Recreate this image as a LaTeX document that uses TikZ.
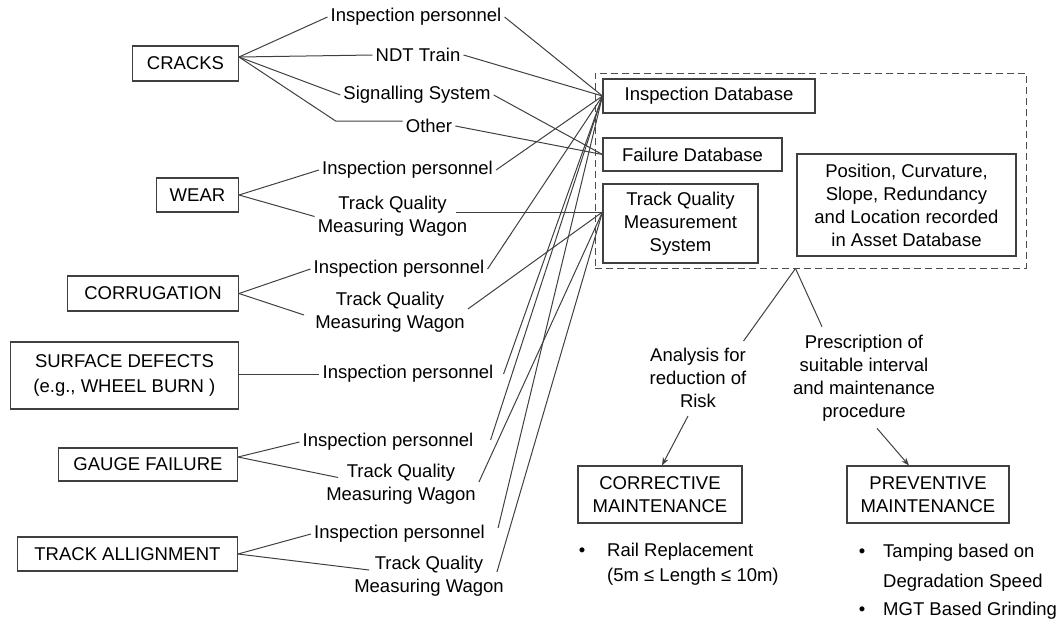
\documentclass[tikz,border=0pt]{standalone}
\usepackage{fontspec}
\setmainfont{Liberation Sans}
\usetikzlibrary{arrows.meta,calc}
\begin{document}
\begin{tikzpicture}[x=1pt,y=-1pt,
  every node/.style={font=\fontsize{18.5}{23}\selectfont, text=black},
  conn/.style={draw=black!75, line width=1pt},
  box/.style={draw=black!75, line width=1.1pt, align=center, inner sep=2pt},
  lbl/.style={align=center, inner sep=3pt},
  frame/.style={draw=black!70, line width=1pt, dash pattern=on 7pt off 4pt, inner sep=0pt},
  arr/.style={conn, -{Stealth[length=8pt,width=6pt]}},
  item/.style={anchor=west, inner sep=0pt},
]
\useasboundingbox (0,0) rectangle (1060,625);

% defect classes
\node[box, anchor=east, minimum width=106pt, minimum height=35pt] (cracks) at (239,63.5) {CRACKS};
\node[box, anchor=east, minimum width=82pt, minimum height=34pt] (wear) at (239,195) {WEAR};
\node[box, anchor=east, minimum width=171pt, minimum height=35pt] (corr) at (239,293.5) {CORRUGATION};
\node[box, anchor=east, minimum width=228pt, minimum height=67pt] (surf) at (239,375.5) {SURFACE DEFECTS\\[2pt](e.g., WHEEL BURN )};
\node[box, anchor=east, minimum width=179pt, minimum height=33pt] (gauge) at (238,464.5) {GAUGE FAILURE};
\node[box, anchor=east, minimum width=220pt, minimum height=34pt] (track) at (238,554) {TRACK ALLIGNMENT};

% detection sources
\node[lbl] (cip) at (416,17) {Inspection personnel};
\node[lbl] (ndt) at (418,55) {NDT Train};
\node[lbl] (sig) at (417,95) {Signalling System};
\node[lbl] (oth) at (429,126) {Other};
\node[lbl] (wip) at (407.5,170) {Inspection personnel};
\node[lbl] (wtq) at (392.5,216.5) {Track Quality\\Measuring Wagon};
\node[lbl] (rip) at (399,269) {Inspection personnel};
\node[lbl] (rtq) at (390,312) {Track Quality\\Measuring Wagon};
\node[lbl] (sip) at (408,374) {Inspection personnel};
\node[lbl] (gip) at (388,442) {Inspection personnel};
\node[lbl] (gtq) at (401,484.5) {Track Quality\\Measuring Wagon};
\node[lbl] (tip) at (399.5,534) {Inspection personnel};
\node[lbl] (ttq) at (429,576.5) {Track Quality\\Measuring Wagon};

% data stores
\node[frame, minimum width=431pt, minimum height=195pt] (store) at (810.5,170.5) {};
\node[box, minimum width=212pt, minimum height=34pt] (idb) at (709,96) {Inspection Database};
\node[box, minimum width=179pt, minimum height=33pt] (fdb) at (692.5,154.5) {Failure Database};
\node[box, minimum width=155pt, minimum height=79pt] (tqms) at (680.5,223.5) {Track Quality\\Measurement\\System};
\node[box, minimum width=219pt, minimum height=102pt] (pos) at (906.5,205) {Position, Curvature,\\Slope, Redundancy\\and Location recorded\\in Asset Database};

% entry points
\coordinate (cfan) at ([yshift=6.5pt]cracks.east);
\coordinate (gfan) at ([yshift=7.5pt]gauge.east);
\coordinate (tqin) at ([yshift=11.5pt]tqms.west);
\coordinate (apex) at ([xshift=-15pt]store.south);

% defect class -> source
\draw[conn] (cfan) -- (cip.west);
\draw[conn] (cfan) -- (ndt.west);
\draw[conn] (cfan) -- (sig.west);
\draw[conn] (cfan) -- ([xshift=-67pt,yshift=5pt]oth.west) -- ([yshift=5pt]oth.west);
\draw[conn] (wear.east) -- (wip.west);
\draw[conn] (wear.east) -- (wtq.west);
\draw[conn] (corr.east) -- (rip.west);
\draw[conn] (corr.east) -- ([xshift=-8pt,yshift=-3pt]rtq.west);
\draw[conn] (surf.east |- sip.west) -- (sip.west);
\draw[conn] (gfan) -- (gip.west);
\draw[conn] (gfan) -- ([xshift=15pt,yshift=7pt]gtq.west);
\draw[conn] (track.east) -- (tip.west);
\draw[conn] (track.east) -- ([xshift=18pt,yshift=6.5pt]ttq.west);

% source -> data store
\draw[conn] (cip.east) -- (idb.west);
\draw[conn] (ndt.east) -- (idb.west);
\draw[conn] (sig.east) -- (fdb.west);
\draw[conn] (oth.east) -- (fdb.west);
\draw[conn] (wip.east) -- (idb.west);
\draw[conn] ([xshift=-14pt,yshift=4.5pt]wtq.east) -- (tqin);
\draw[conn] (rip.east) -- (idb.west);
\draw[conn] ([yshift=3pt]rtq.east) -- (tqin);
\draw[conn] ([xshift=7pt]sip.east) -- (idb.west);
\draw[conn] ([xshift=14pt,yshift=2pt]gip.east) -- (idb.west);
\draw[conn] ([yshift=2.5pt]gtq.east) -- (tqin);
\draw[conn] ([xshift=10pt,yshift=6pt]tip.east) -- (idb.west);
\draw[conn] ([xshift=-10pt,yshift=4.5pt]ttq.east) -- (tqin);

% maintenance strategies
\node[lbl] (ana) at (698,378) {Analysis for\\reduction of\\Risk};
\node[lbl] (pre) at (864,378) {Prescription of\\suitable interval\\and maintenance\\procedure};
\node[box, minimum width=164pt, minimum height=57pt] (cm) at (660,494.5) {CORRECTIVE\\MAINTENANCE};
\node[box, minimum width=162pt, minimum height=57pt] (pm) at (928,494.5) {PREVENTIVE\\MAINTENANCE};

\draw[conn] (apex) -- ([xshift=-6pt,yshift=4pt]ana.north east);
\draw[conn] (apex) -- ([xshift=-42pt,yshift=5pt]pre.north);
\draw[arr] ([xshift=-10pt,yshift=-5pt]ana.south) -- ([xshift=2pt]cm.north);
\draw[arr] ([xshift=13pt,yshift=-4pt]pre.south) -- ([xshift=-19pt]pm.north);

% actions
\node (b1) at (582,552) {•};
\node[item] (r1) at (607,552) {Rail Replacement};
\node[item] (r2) at (607,577) {(5m ≤ Length ≤ 10m)};
\node (b2) at (862,553) {•};
\node[item] (p1) at (883,553) {Tamping based on};
\node[item] (p2) at (883,583) {Degradation Speed};
\node (b3) at (862,611) {•};
\node[item] (p3) at (883,611) {MGT Based Grinding};
\end{tikzpicture}
\end{document}
